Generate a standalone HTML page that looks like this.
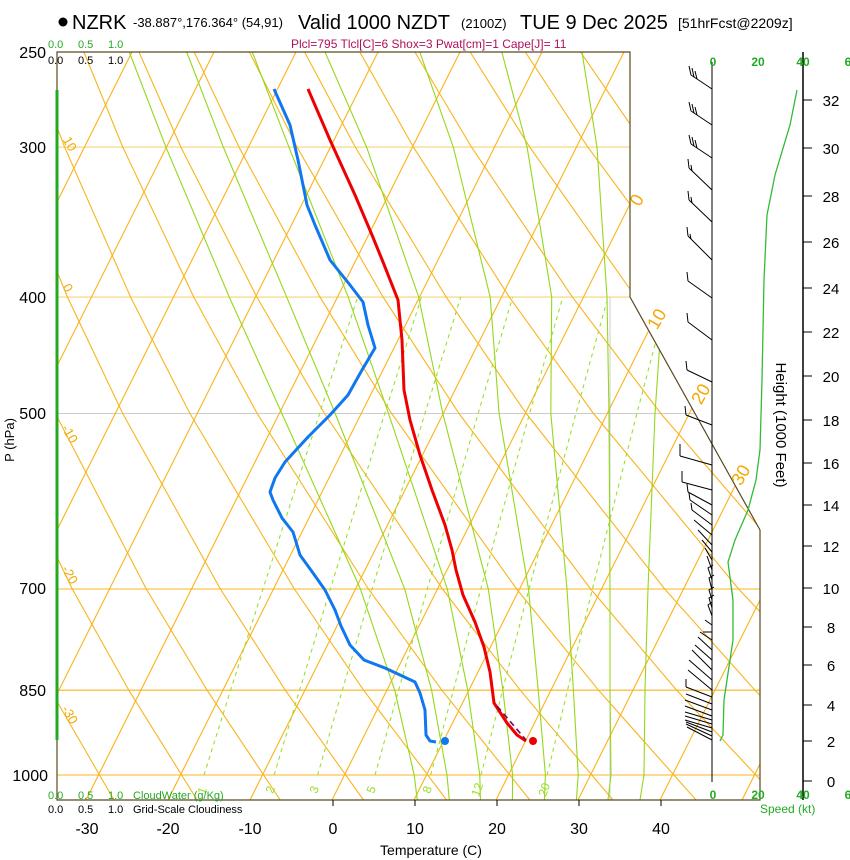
<!DOCTYPE html>
<html><head><meta charset="utf-8">
<style>
html,body{margin:0;padding:0;background:#fff;}
svg{display:block;font-family:"Liberation Sans",Arial,sans-serif;}
</style></head>
<body>
<svg width="850" height="860" viewBox="0 0 850 860" xmlns="http://www.w3.org/2000/svg">
<defs><clipPath id="cp"><path d="M57,52 L630,52 L630,297 L760,530 L760,800 L57,800 Z"/></clipPath></defs>
<g clip-path="url(#cp)" fill="none">
<g stroke-width="1.1">
<line x1="40" y1="147.1" x2="770" y2="147.1" stroke="#f8d27a"/>
<line x1="40" y1="297.1" x2="770" y2="297.1" stroke="#f8d27a"/>
<line x1="40" y1="413.5" x2="770" y2="413.5" stroke="#cccccc"/>
<line x1="40" y1="589" x2="770" y2="589" stroke="#f9b41c"/>
<line x1="40" y1="690.2" x2="770" y2="690.2" stroke="#f9b41c"/>
<line x1="40" y1="775" x2="770" y2="775" stroke="#f9b41c"/>
</g>
<line x1="610" y1="297" x2="610" y2="800" stroke="#cccccc" stroke-width="1"/>
<g stroke="#f9b41c" stroke-width="1.1">
<line x1="-242" y1="800" x2="132" y2="52"/><line x1="-160" y1="800" x2="214" y2="52"/><line x1="-78" y1="800" x2="296" y2="52"/>
<line x1="4" y1="800" x2="378" y2="52"/><line x1="86" y1="800" x2="460" y2="52"/><line x1="168" y1="800" x2="542" y2="52"/>
<line x1="250" y1="800" x2="624" y2="52"/><line x1="332" y1="800" x2="706" y2="52"/><line x1="414" y1="800" x2="788" y2="52"/>
<line x1="496" y1="800" x2="870" y2="52"/><line x1="578" y1="800" x2="952" y2="52"/><line x1="660" y1="800" x2="1034" y2="52"/>
<line x1="742" y1="800" x2="1116" y2="52"/>
</g>
<g stroke="#f9b41c" stroke-width="1.1">
<polyline points="114.0,800 50.5,690.2 -1.8,589 -79.1,413.5 -121.8,297.1 -167.9,147.1 -192.1,52"/>
<polyline points="197.2,800 128.8,690.2 72.3,589 -11.8,413.5 -58.7,297.1 -109.8,147.1 -136.9,52"/>
<polyline points="280.3,800 207.1,690.2 146.3,589 55.4,413.5 4.4,297.1 -51.6,147.1 -81.7,52"/>
<polyline points="363.5,800 285.3,690.2 220.4,589 122.7,413.5 67.5,297.1 6.5,147.1 -26.5,52"/>
<polyline points="446.6,800 363.6,690.2 294.4,589 189.9,413.5 130.6,297.1 64.6,147.1 28.7,52"/>
<polyline points="529.8,800 441.9,690.2 368.5,589 257.2,413.5 193.8,297.1 122.8,147.1 83.9,52"/>
<polyline points="612.9,800 520.2,690.2 442.5,589 324.5,413.5 256.9,297.1 180.9,147.1 139.0,52"/>
<polyline points="696.1,800 598.5,690.2 516.6,589 391.7,413.5 320.0,297.1 239.0,147.1 194.2,52"/>
<polyline points="779.2,800 676.7,690.2 590.6,589 459.0,413.5 383.1,297.1 297.1,147.1 249.4,52"/>
<polyline points="862.4,800 755.0,690.2 664.7,589 526.2,413.5 446.2,297.1 355.3,147.1 304.6,52"/>
<polyline points="945.5,800 833.3,690.2 738.7,589 593.5,413.5 509.3,297.1 413.4,147.1 359.8,52"/>
<polyline points="1028.7,800 911.6,690.2 812.8,589 660.8,413.5 572.4,297.1 471.5,147.1 414.9,52"/>
<polyline points="1111.8,800 989.9,690.2 886.8,589 728.0,413.5 635.6,297.1 529.7,147.1 470.1,52"/>
<polyline points="1195.0,800 1068.1,690.2 960.9,589 795.3,413.5 698.7,297.1 587.8,147.1 525.3,52"/>
<polyline points="1278.1,800 1146.4,690.2 1034.9,589 862.5,413.5 761.8,297.1 645.9,147.1 580.5,52"/>
<polyline points="1361.3,800 1224.7,690.2 1109.0,589 929.8,413.5 824.9,297.1 704.0,147.1 635.7,52"/>
</g>
<g stroke="#93d81a" stroke-width="1.1">
<polyline points="417.3,800 414.2,775 394.7,690.2 360.4,589 281.9,413.5 229.3,297.1 165.9,147.1 129.3,52"/>
<polyline points="449.3,800 447.0,775 431.6,690.2 404.7,589 335.2,413.5 286.7,297.1 223.3,147.1 186.7,52"/>
<polyline points="480.4,800 479.8,775 467.7,690.2 447.3,589 388.5,413.5 348.2,297.1 288.9,147.1 252.3,52"/>
<polyline points="512.4,800 512.6,775 502.9,690.2 488.3,589 442.8,413.5 418.7,297.1 366.6,147.1 325.0,52"/>
<polyline points="544.4,800 545.4,775 538.2,690.2 528.5,589 499.1,413.5 490.2,297.1 453.3,147.1 419.8,52"/>
<polyline points="576.4,800 578.2,775 573.4,690.2 567.0,589 550.8,413.5 551.7,297.1 527.1,147.1 501.8,52"/>
<polyline points="608,800 611,775 610,690.2 610,589 609,413.5 607,297.1 597,147.1 582,52"/>
<polyline points="640,800 644,775 645,690.2 648,589 655,413.5 663,297.1 662,147.1 655,52"/>
</g>
<g stroke="#9ae02a" stroke-width="1.1" stroke-dasharray="4,4">
<polyline points="204.0,775 230.6,690.2 262.9,589 319.6,413.5 357.7,297.1"/>
<polyline points="274.1,775 299.6,690.2 330.3,589 384.8,413.5 421.4,297.1"/>
<polyline points="317.6,775 342.3,690.2 372.1,589 424.9,413.5 460.7,297.1"/>
<polyline points="375.0,775 398.6,690.2 427.3,589 478.1,413.5 512.7,297.1"/>
<polyline points="430.7,775 453.3,690.2 480.8,589 529.6,413.5 562.8,297.1"/>
<polyline points="481.0,775 502.6,690.2 529.0,589 575.9,413.5 608.0,297.1"/>
<polyline points="547.2,775 567.5,690.2 592.4,589 636.9,413.5 667.4,297.1"/>
</g>
</g>
<g font-size="12" fill="#99dd22" text-anchor="middle">
<text transform="translate(206,792) rotate(-70)">1</text>
<text transform="translate(274,791) rotate(-70)">2</text>
<text transform="translate(318,791) rotate(-70)">3</text>
<text transform="translate(375,791) rotate(-70)">5</text>
<text transform="translate(431,791) rotate(-70)">8</text>
<text transform="translate(481,791) rotate(-70)">12</text>
<text transform="translate(548,791) rotate(-70)">20</text>
</g>
<path d="M57,52 L630,52 L630,297 L760,530 L760,800 L57,800 Z" fill="none" stroke="#5a4a20" stroke-width="1.2"/>
<line x1="57" y1="90" x2="57" y2="740" stroke="#22aa22" stroke-width="3"/>
<circle cx="63" cy="22" r="4.5" fill="#000"/>
<text x="72" y="29" font-size="20">NZRK</text>
<text x="133" y="27" font-size="13">-38.887°,176.364° (54,91)</text>
<text x="298" y="29" font-size="20">Valid 1000 NZDT</text>
<text x="461" y="28" font-size="13">(2100Z)</text>
<text x="520" y="29" font-size="20">TUE 9 Dec 2025</text>
<text x="678" y="28" font-size="14">[51hrFcst@2209z]</text>
<text x="291" y="48" font-size="12" fill="#b0105a">Plcl=795 Tlcl[C]=6 Shox=3 Pwat[cm]=1 Cape[J]= 11</text>
<g font-size="11" fill="#22aa22"><text x="48" y="48">0.0</text><text x="78" y="48">0.5</text><text x="108" y="48">1.0</text></g>
<g font-size="11" fill="#000"><text x="48" y="64">0.0</text><text x="78" y="64">0.5</text><text x="108" y="64">1.0</text></g>
<g font-size="11" fill="#22aa22"><text x="48" y="799">0.0</text><text x="78" y="799">0.5</text><text x="108" y="799">1.0</text><text x="133" y="799">CloudWater (g/Kg)</text></g>
<g font-size="11" fill="#000"><text x="48" y="813">0.0</text><text x="78" y="813">0.5</text><text x="108" y="813">1.0</text><text x="133" y="813">Grid-Scale Cloudiness</text></g>
<g font-size="16" text-anchor="end">
<text x="46" y="58">250</text><text x="46" y="153">300</text><text x="46" y="303">400</text>
<text x="46" y="419">500</text><text x="46" y="594">700</text><text x="46" y="696">850</text><text x="48" y="781">1000</text>
</g>
<text transform="translate(14,440) rotate(-90)" font-size="13" text-anchor="middle">P (hPa)</text>
<g font-size="16" text-anchor="middle">
<text x="87" y="834">-30</text><text x="168" y="834">-20</text><text x="250" y="834">-10</text><text x="333" y="834">0</text>
<text x="415" y="834">10</text><text x="497" y="834">20</text><text x="579" y="834">30</text><text x="661" y="834">40</text>
</g>
<g stroke="#000" stroke-width="1"><line x1="333" y1="800" x2="333" y2="806"/><line x1="415" y1="800" x2="415" y2="806"/><line x1="497" y1="800" x2="497" y2="806"/><line x1="579" y1="800" x2="579" y2="806"/><line x1="661" y1="800" x2="661" y2="806"/></g>
<text x="431" y="855" font-size="14" text-anchor="middle">Temperature (C)</text>
<g font-size="18" fill="#f5a800" text-anchor="middle">
<text transform="translate(642,203) rotate(-60)">0</text>
<text transform="translate(662,322) rotate(-60)">10</text>
<text transform="translate(706,397) rotate(-60)">20</text>
<text transform="translate(746,478) rotate(-60)">30</text>
</g>
<g font-size="13" fill="#f5a800" text-anchor="middle">
<text transform="translate(66,146) rotate(60)">10</text>
<text transform="translate(64,290) rotate(60)">0</text>
<text transform="translate(66,436) rotate(60)">-10</text>
<text transform="translate(66,577) rotate(60)">-20</text>
<text transform="translate(66,717) rotate(60)">-30</text>
</g>
<line x1="712" y1="62" x2="712" y2="782" stroke="#000" stroke-width="1"/>
<line x1="803" y1="52" x2="803" y2="800" stroke="#000" stroke-width="1.5"/>
<g font-size="12" fill="#22aa22" text-anchor="middle" font-weight="bold">
<text x="713" y="66">0</text><text x="758" y="66">20</text><text x="803" y="66">40</text><text x="848" y="66">6</text>
<text x="713" y="799">0</text><text x="758" y="799">20</text><text x="803" y="799">40</text><text x="848" y="799">6</text>
</g>
<text x="760" y="813" font-size="12" fill="#22aa22">Speed (kt)</text>
<g stroke="#000" stroke-width="1">
<line x1="803" y1="781" x2="812" y2="781"/><line x1="803" y1="741" x2="812" y2="741"/><line x1="803" y1="705" x2="812" y2="705"/>
<line x1="803" y1="665" x2="812" y2="665"/><line x1="803" y1="627" x2="812" y2="627"/><line x1="803" y1="588" x2="812" y2="588"/>
<line x1="803" y1="546" x2="812" y2="546"/><line x1="803" y1="505" x2="812" y2="505"/><line x1="803" y1="463" x2="812" y2="463"/>
<line x1="803" y1="420" x2="812" y2="420"/><line x1="803" y1="376" x2="812" y2="376"/><line x1="803" y1="332" x2="812" y2="332"/>
<line x1="803" y1="288" x2="812" y2="288"/><line x1="803" y1="242" x2="812" y2="242"/><line x1="803" y1="196" x2="812" y2="196"/>
<line x1="803" y1="148" x2="812" y2="148"/><line x1="803" y1="100" x2="812" y2="100"/>
</g>
<g font-size="15" text-anchor="middle">
<text x="831" y="787">0</text><text x="831" y="747">2</text><text x="831" y="711">4</text><text x="831" y="671">6</text>
<text x="831" y="633">8</text><text x="831" y="594">10</text><text x="831" y="552">12</text><text x="831" y="511">14</text>
<text x="831" y="469">16</text><text x="831" y="426">18</text><text x="831" y="382">20</text><text x="831" y="338">22</text>
<text x="831" y="294">24</text><text x="831" y="248">26</text><text x="831" y="202">28</text><text x="831" y="154">30</text><text x="831" y="106">32</text>
</g>
<text transform="translate(776,425) rotate(90)" font-size="15" text-anchor="middle">Height (1000 Feet)</text>
<polyline fill="none" stroke="#33bb33" stroke-width="1.3" points="797,90 790,125 775,175 767,215 764,280 762,380 760,450 756,480 748,510 735,540 728,562 733,600 733,640 727,680 724,700 723,735 720,741"/>
<g stroke="#000" stroke-width="1" fill="none">
<path d="M712,89 L691,75 M691,75 l-2,-9 M694,77 l-2,-9 M697,79 l-2,-8"/>
<path d="M712,125 L691,111 M691,111 l-2,-9 M694,113 l-2,-9 M697,115 l-2,-8"/>
<path d="M712,158 L691,144 M691,144 l-2,-9 M694,146 l-2,-9 M697,148 l-2,-8"/>
<path d="M712,190 L689,168 M689,168 l-1,-9 M692,171 l-1,-6"/>
<path d="M712,222 L689,200 M689,200 l-1,-9 M692,203 l-1,-6"/>
<path d="M712,260 L688,236 M688,236 l-1,-9 M691,239 l-1,-5"/>
<path d="M712,298 L688,281 M688,281 l-1,-9"/>
<path d="M712,340 L688,322 M688,322 l-1,-9"/>
<path d="M712,382 L687,370 M687,370 l-1,-9"/>
<path d="M712,425 L686,415 M686,415 l-1,-9"/>
<path d="M712,465 L680,456 M680,456 l0,-12"/>
<path d="M712,490 L682,482 M682,482 l0,-11"/>
<path d="M712,505 L688,492 M688,492 l-1,-8"/>
<path d="M712,515 L690,500 M690,500 l-1,-7"/>
<path d="M712,525 L692,510 M692,510 l-1,-7"/>
<path d="M712,535 L694,520 M712,545 L698,530 M712,552 L702,540 M712,560 L705,548 M712,570 L707,556"/>
<path d="M712,580 L708,568 l5,-3 M712,590 L709,578 l5,-3 M712,600 L709,590 l5,-3 M712,608 L709,598 l5,-3 M712,616 L708,605 l4,-3"/>
<path d="M712,625 L705,620 M712,632 L703,632 M712,640 L700,632 M712,650 L698,637 M712,660 L695,645 M712,670 L692,650 M712,680 L689,660 M712,690 L688,670"/>
<path d="M712,697 L686,687 M686,687 l0,-8 M712,704 L686,694 M712,710 L685,700 M712,716 L685,706 M712,720 L685,712 M712,724 L685,716 M712,728 L685,720 M712,732 L686,722 M712,736 L686,724 M712,740 L687,727"/>
</g>
<polyline fill="none" stroke="#ee0000" stroke-width="3" stroke-linejoin="round" points="308,89 330,140 355,195 372,235 383,262 398,300 402,340 404,390 410,420 420,455 432,490 445,525 452,550 456,570 463,595 475,622 484,647 490,672 494,703 507,723 517,735 526,741"/>
<polyline fill="none" stroke="#800050" stroke-width="1.6" stroke-dasharray="6,4" points="497,706 526,740"/>
<circle cx="533" cy="741" r="4" fill="#ee0000"/>
<polyline fill="none" stroke="#1177ee" stroke-width="3" stroke-linejoin="round" points="274,89 290,125 298,160 307,205 315,225 330,260 350,285 363,302 368,325 375,348 362,370 348,395 330,415 308,437 285,462 275,478 270,492 273,500 282,518 293,532 300,555 313,573 325,590 335,610 341,626 350,645 364,660 385,668 415,682 420,693 425,710 426,735 430,741 436,742"/>
<circle cx="445" cy="741" r="4" fill="#1177ee"/>
</svg>
</body></html>
